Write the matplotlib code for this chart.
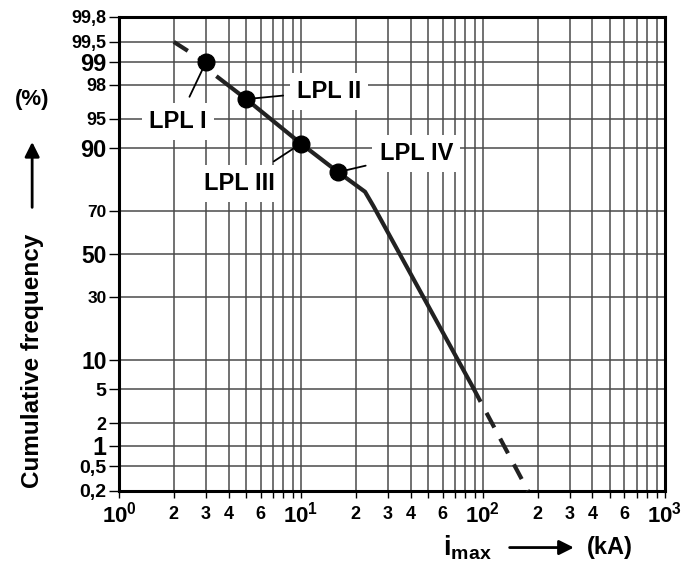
import matplotlib
matplotlib.use('Agg')
import matplotlib.pyplot as plt
import numpy as np
from statistics import NormalDist
from matplotlib.ticker import LogLocator, FuncFormatter, FixedLocator, NullLocator

plt.rcParams['font.family'] = ['Liberation Sans', 'DejaVu Sans']
plt.rcParams['font.weight'] = 'bold'
plt.rcParams['mathtext.fontset'] = 'custom'
plt.rcParams['mathtext.rm'] = 'Liberation Sans:bold'
plt.rcParams['mathtext.bf'] = 'Liberation Sans:bold'
plt.rcParams['mathtext.it'] = 'Liberation Sans:bold'

# lightning protection levels: peak current (kA) vs cumulative frequency (%)
lpl_names = ['LPL I', 'LPL II', 'LPL III', 'LPL IV']
lpl_current = [3, 5, 10, 16]
lpl_freq = [99, 97, 91, 84]

# distribution curve (dashed ends, solid middle)
upper_x = [2, 3, 3.5]
upper_y = [99.5, 99, 98.4]
solid_x = [3.5, 5, 10, 16, 22.5, 25, 88]
solid_y = [98.4, 97, 91, 84, 77.5, 72, 5.3]
lower_x = [88, 177]
lower_y = [5.3, 0.2]

y_ticks = [0.2, 0.5, 1, 2, 5, 10, 30, 50, 70, 90, 95, 98, 99, 99.5, 99.8]
y_labels = ['0,2', '0,5', '1', '2', '5', '10', '30', '50', '70', '90', '95', '98', '99', '99,5', '99,8']
y_label_sizes = [14, 14, 18, 13, 14, 16.5, 12.5, 16.5, 12.5, 17, 13, 13, 17, 13, 13]

# where the LPL labels sit
label_pos = [(2.1, 94.6), (14.3, 97.6), (4.6, 80.3), (43, 88.8)]

nd = NormalDist()
_ppf = np.vectorize(nd.inv_cdf, otypes=[float])
_cdf = np.vectorize(nd.cdf, otypes=[float])


def fwd(p):
    p = np.clip(np.asarray(p, dtype=float) / 100.0, 1e-9, 1 - 1e-9)
    return _ppf(p)


def inv(z):
    return _cdf(np.asarray(z, dtype=float)) * 100.0


fig = plt.figure(figsize=(6.84, 5.68), dpi=100)
ax = fig.add_axes([0.174, 0.1356, 0.798, 0.8345])

ax.set_xscale('log')
ax.set_yscale('function', functions=(fwd, inv))
ax.set_xlim(1, 1000)
ax.set_ylim(0.2, 99.8)

# x ticks
ax.xaxis.set_major_locator(LogLocator(base=10, numticks=10))
ax.xaxis.set_minor_locator(LogLocator(base=10, subs=np.arange(2, 10), numticks=40))
ax.xaxis.set_major_formatter(FuncFormatter(lambda v, p: r'$\mathbf{10^{%d}}$' % round(np.log10(v))))


def minor_fmt(v, p):
    m = int(round(v / 10 ** np.floor(np.log10(v) + 1e-9)))
    return str(m) if m in (2, 3, 4, 6) else ''


ax.xaxis.set_minor_formatter(FuncFormatter(minor_fmt))

# y ticks
ax.yaxis.set_major_locator(FixedLocator(y_ticks))
ax.yaxis.set_minor_locator(NullLocator())
ax.set_yticklabels(y_labels)
for lab, s in zip(ax.get_yticklabels(), y_label_sizes):
    lab.set_fontsize(s)
    lab.set_fontweight('bold')

ax.tick_params(axis='x', which='major', labelsize=16, length=5, width=1, pad=3)
ax.tick_params(axis='x', which='minor', labelsize=13, length=5, width=1, pad=6)
ax.tick_params(axis='y', length=7, width=1, pad=2)

ax.grid(True, which='both', axis='x', color='#4a4a4a', lw=1.1)
ax.grid(True, which='major', axis='y', color='#4a4a4a', lw=1.1)
ax.set_axisbelow(True)

for sp in ax.spines.values():
    sp.set_linewidth(2.2)

line_col = '#222222'
ax.plot(upper_x, upper_y, color=line_col, lw=3, dashes=(4, 3), zorder=3)
ax.plot(solid_x, solid_y, color=line_col, lw=3, zorder=3, solid_joinstyle='round')
ax.plot(lower_x, lower_y, color=line_col, lw=3, dashes=(4, 3), zorder=3, clip_on=False)
ax.plot(lpl_current, lpl_freq, 'o', ms=12, color='black', zorder=5)

for name, cx, cy, pos in zip(lpl_names, lpl_current, lpl_freq, label_pos):
    ax.annotate(name, xy=(cx, cy), xytext=pos, ha='center', va='center',
                fontsize=17, fontweight='bold', zorder=4,
                bbox=dict(boxstyle='square,pad=0.3', fc='white', ec='none'),
                arrowprops=dict(arrowstyle='-', lw=1.3, color='black',
                                shrinkA=5, shrinkB=3))

# axis labels
fig.text(0.047, 0.364, 'Cumulative frequency', rotation=90, ha='center', va='center',
         fontsize=17.5, fontweight='bold')
ax.annotate('', xy=(0.047, 0.755), xytext=(0.047, 0.630), xycoords='figure fraction',
            arrowprops=dict(arrowstyle='-|>', lw=2, color='black', mutation_scale=22))
fig.text(0.047, 0.824, '(%)', ha='center', va='center', fontsize=16, fontweight='bold')

fig.text(0.683, 0.035, r'$\mathbf{i}_{\mathbf{max}}$', ha='center', va='center', fontsize=20)
ax.annotate('', xy=(0.843, 0.036), xytext=(0.741, 0.036), xycoords='figure fraction',
            arrowprops=dict(arrowstyle='-|>', lw=2, color='black', mutation_scale=22))
fig.text(0.892, 0.036, '(kA)', ha='center', va='center', fontsize=17, fontweight='bold')

fig.savefig('out.png', dpi=100)
